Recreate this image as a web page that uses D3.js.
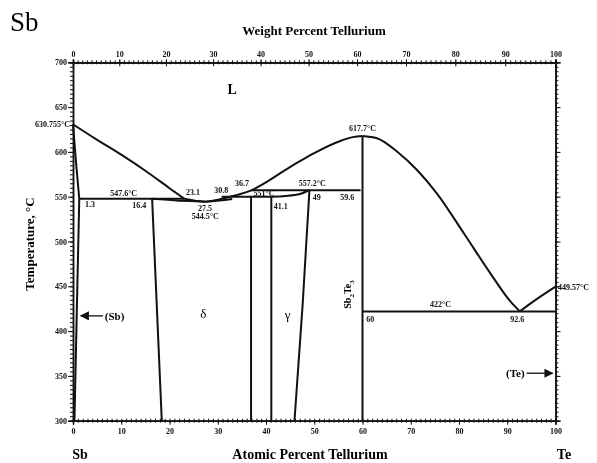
<!DOCTYPE html>
<html>
<head>
<meta charset="utf-8">
<script src="https://cdn.jsdelivr.net/npm/d3@7"></script>
<style>
  body { margin: 0; background: #fff; }
  svg { display: block; font-family: "Liberation Serif", "DejaVu Serif", serif; will-change: transform; }
  .tick text { font-size: 8px; font-weight: bold; font-family: "Liberation Serif", serif; }
  .phase { fill: none; stroke: #111; stroke-width: 2; }
  .lbl { font-size: 8px; font-weight: bold; fill: #111; }
</style>
</head>
<body>
<svg id="chart" width="597" height="463"></svg>
<script>
// Sb-Te phase diagram
const tempTicks = [300, 350, 400, 450, 500, 550, 600, 650, 700];
const atomicTicks = [0, 10, 20, 30, 40, 50, 60, 70, 80, 90, 100];
const weightTicks = [0, 10, 20, 30, 40, 50, 60, 70, 80, 90, 100];

// [atomic % Te, temperature °C]
const liquidusSb = [[0, 630.755], [5, 613.5], [10, 597], [15, 579], [20, 559.5], [23.1, 547.6]];
const liquidusDip = [[23.1, 547.6], [25.5, 545.2], [27.5, 544.5]];
const liquidusMid = [[27.5, 544.5], [29.5, 546], [31.5, 548.6], [34, 552], [36.7, 556.5], [40, 566], [42.9, 576], [46.5, 588], [49.9, 598.4], [55.4, 612.2], [58, 616.5], [60, 617.7]];
const liquidusTe = [[60, 617.7], [63, 615.2], [67.2, 600.2], [71.3, 579.8], [75.4, 553.8], [81, 509.2], [86.5, 464.5], [90.7, 432.8], [92.6, 422]];
const liquidusTeEnd = [[92.6, 422], [95, 431.5], [100, 449.57]];
const solidusDelta = [[16.4, 547.6], [22, 545.6], [27.5, 544.5], [31, 546], [33, 547.5]];
const solidusGamma = [[41.1, 550], [44, 550.8], [47, 553], [49, 557.2]];
const sbSolidus = [[0, 630.755], [0.6, 590], [1.3, 547.6]];
const sbSolvus = [[1.3, 547.6], [0.9, 450], [0.3, 300]];
const deltaLeft = [[16.4, 547.6], [18.4, 300]];
const deltaRight = [[36.9, 550], [36.9, 300]];
const gammaLeft = [[41.1, 550], [41.1, 300]];
const gammaRight = [[49, 557.2], [47.6, 430], [45.9, 300]];
const sb2te3 = [[60, 617.7], [60, 300]];

// invariant lines: [from %, to %, temperature]
const invariants = [[1.3, 23.1, 547.6], [30.8, 41.1, 550], [37, 59.6, 557.2], [60, 100, 422]];

// point labels: [text, atomic %, temperature, anchor, dy(px)]
const pointLabels = [
  ["547.6°C", 7.7, 547.6, "start", -3],
  ["1.3", 2.5, 547.6, "start", 8],
  ["16.4", 12.3, 547.6, "start", 9],
  ["23.1", 23.4, 547.6, "start", -4],
  ["27.5", 25.9, 544.5, "start", 9],
  ["544.5°C", 24.6, 544.5, "start", 17],
  ["30.8", 29.3, 550, "start", -4],
  ["36.7", 33.6, 557.2, "start", -4],
  ["551°C", 37.4, 550, "start", -1],
  ["41.1", 41.6, 550, "start", 12],
  ["557.2°C", 46.8, 557.2, "start", -4],
  ["49", 49.7, 557.2, "start", 10],
  ["59.6", 55.4, 557.2, "start", 10],
  ["617.7°C", 60, 617.7, "middle", -5],
  ["422°C", 74, 422, "start", -4],
  ["60", 60.8, 422, "start", 11],
  ["92.6", 90.6, 422, "start", 11]
];

const svg = d3.select("#chart");

const x = d3.scaleLinear().domain([0, 100]).range([73, 555.5]);
const y = d3.scaleLinear().domain([300, 700]).range([420.7, 62.3]);

// weight % -> atomic % (Sb 121.76, Te 127.60)
function weightToAtomic(w) {
    const te = w / 127.60, sb = (100 - w) / 121.76;
    return te / (te + sb) * 100;
}
const weightDomain = d3.range(0, 101, 1);
const xw = d3.scaleLinear().domain(weightDomain).range(weightDomain.map(w => x(weightToAtomic(w))));

function drawAxis(gen, transform) {
    const g = svg.append("g").attr("transform", transform).call(gen);
    g.select(".domain").attr("stroke", "#111").attr("stroke-width", 1.5);
    g.selectAll(".tick line").attr("stroke", "#111");
    return g;
}

// left axis
drawAxis(d3.axisLeft(y).tickValues(d3.range(300, 701, 5)).tickSize(3).tickFormat(""), "translate(73,0)");
drawAxis(d3.axisLeft(y).tickValues(tempTicks).tickSize(5).tickPadding(1), "translate(73,0)");
// right axis
drawAxis(d3.axisRight(y).tickValues(d3.range(300, 701, 5)).tickSize(3).tickFormat(""), "translate(555.5,0)");
drawAxis(d3.axisRight(y).tickValues(tempTicks).tickSize(5).tickFormat(""), "translate(555.5,0)");
// bottom axis
drawAxis(d3.axisBottom(x).tickValues(d3.range(0, 101, 1)).tickSize(2).tickFormat(""), "translate(0,420.7)");
drawAxis(d3.axisTop(x).tickValues(d3.range(0, 101, 1)).tickSize(2).tickFormat(""), "translate(0,420.7)");
drawAxis(d3.axisBottom(x).tickValues(atomicTicks).tickSize(4).tickPadding(4), "translate(0,420.7)");
// top axis (weight percent)
drawAxis(d3.axisTop(xw).tickValues(weightDomain).tickSize(2).tickFormat(""), "translate(0,62.3)");
drawAxis(d3.axisBottom(xw).tickValues(weightDomain).tickSize(2).tickFormat(""), "translate(0,62.3)");
drawAxis(d3.axisBottom(xw).tickValues(weightTicks).tickSize(4).tickFormat(""), "translate(0,62.3)");
drawAxis(d3.axisTop(xw).tickValues(weightTicks).tickSize(3).tickPadding(2), "translate(0,62.3)");

svg.selectAll(".tick text").attr("fill", "#111");

// phase boundaries
const line = d3.line().x(d => x(d[0])).y(d => y(d[1])).curve(d3.curveMonotoneX);
const straight = d3.line().x(d => x(d[0])).y(d => y(d[1]));

[liquidusSb, liquidusDip, liquidusMid, liquidusTe, liquidusTeEnd, solidusDelta, solidusGamma].forEach(pts => {
    svg.append("path").attr("class", "phase").attr("d", line(pts));
});
[sbSolidus, sbSolvus, deltaLeft, deltaRight, gammaLeft, gammaRight].forEach(pts => {
    svg.append("path").attr("class", "phase").attr("d", d3.line().x(d => x(d[0])).y(d => y(d[1])).curve(d3.curveMonotoneY)(pts));
});
svg.append("path").attr("class", "phase").attr("stroke-width", 3).attr("d", straight(sb2te3));

svg.selectAll(".inv").data(invariants).join("line")
    .attr("class", "phase")
    .attr("x1", d => x(d[0])).attr("x2", d => x(d[1]))
    .attr("y1", d => y(d[2])).attr("y2", d => y(d[2]));

svg.selectAll(".plbl").data(pointLabels).join("text")
    .attr("class", "lbl")
    .attr("x", d => x(d[1])).attr("y", d => y(d[2]) + d[4])
    .attr("text-anchor", d => d[3])
    .text(d => d[0]);

// pure element melting points
svg.append("text").attr("class", "lbl").attr("x", 70).attr("y", y(630.755) + 3)
    .attr("text-anchor", "end").text("630.755°C");
svg.append("text").attr("class", "lbl").attr("x", 558).attr("y", y(449.57) + 3)
    .text("449.57°C");

// region labels
svg.append("text").attr("x", x(33)).attr("y", y(665)).attr("font-size", 14)
    .attr("font-weight", "bold").attr("text-anchor", "middle").text("L");
svg.append("text").attr("x", x(27)).attr("y", y(415)).attr("font-size", 13)
    .attr("text-anchor", "middle").text("δ");
svg.append("text").attr("x", x(44.5)).attr("y", y(413)).attr("font-size", 13)
    .attr("text-anchor", "middle").text("γ");

// Sb2Te3 compound label (rotated)
const cmp = svg.append("text").attr("font-size", 10).attr("font-weight", "bold")
    .attr("transform", `translate(${x(57.7)},${y(425)}) rotate(-90)`);
cmp.append("tspan").text("Sb");
cmp.append("tspan").attr("font-size", 7).attr("dy", 3).text("2");
cmp.append("tspan").attr("dy", -3).text("Te");
cmp.append("tspan").attr("font-size", 7).attr("dy", 3).text("3");

// terminal solid solution arrows
svg.append("defs").append("marker").attr("id", "arr").attr("viewBox", "0 0 10 10")
    .attr("refX", 9).attr("refY", 5).attr("markerWidth", 9).attr("markerHeight", 7)
    .attr("orient", "auto").append("path").attr("d", "M0,0L10,5L0,10Z").attr("fill", "#111");
svg.append("line").attr("x1", x(6.2)).attr("x2", x(1.6)).attr("y1", y(417)).attr("y2", y(417))
    .attr("stroke", "#111").attr("stroke-width", 1.3).attr("marker-end", "url(#arr)");
svg.append("text").attr("x", x(6.6)).attr("y", y(417) + 4).attr("font-size", 11)
    .attr("font-weight", "bold").text("(Sb)");
svg.append("line").attr("x1", x(94)).attr("x2", x(99.4)).attr("y1", y(353)).attr("y2", y(353))
    .attr("stroke", "#111").attr("stroke-width", 1.3).attr("marker-end", "url(#arr)");
svg.append("text").attr("x", x(93.6)).attr("y", y(353) + 4).attr("font-size", 11)
    .attr("font-weight", "bold").attr("text-anchor", "end").text("(Te)");

// titles
svg.append("text").attr("x", 10).attr("y", 31).attr("font-size", 27).text("Sb");
svg.append("text").attr("x", 314).attr("y", 35).attr("font-size", 13).attr("font-weight", "bold")
    .attr("text-anchor", "middle").text("Weight Percent Tellurium");
svg.append("text").attr("x", 310).attr("y", 459).attr("font-size", 14).attr("font-weight", "bold")
    .attr("text-anchor", "middle").text("Atomic Percent Tellurium");
svg.append("text").attr("x", 80).attr("y", 459).attr("font-size", 14).attr("font-weight", "bold")
    .attr("text-anchor", "middle").text("Sb");
svg.append("text").attr("x", 564).attr("y", 459).attr("font-size", 14).attr("font-weight", "bold")
    .attr("text-anchor", "middle").text("Te");
svg.append("text").attr("font-size", 13).attr("font-weight", "bold").attr("text-anchor", "middle")
    .attr("transform", "translate(34,244) rotate(-90)").text("Temperature, °C");
</script>
</body>
</html>
